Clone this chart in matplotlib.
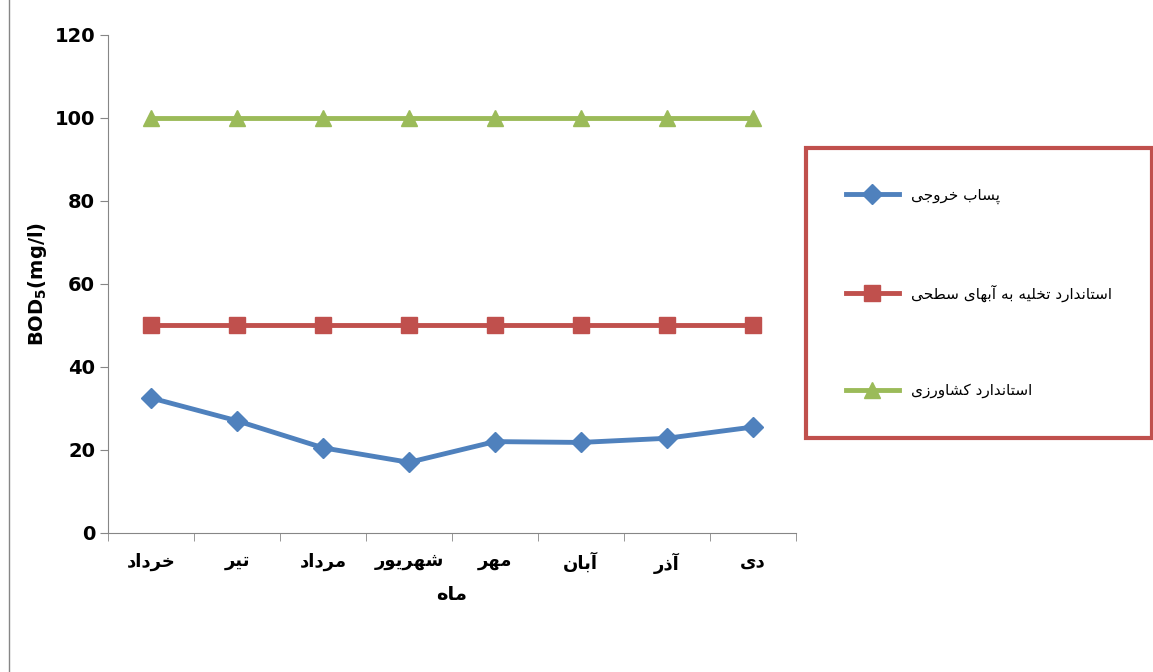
import matplotlib
matplotlib.use("Agg")
import matplotlib.pyplot as plt
from matplotlib.lines import Line2D

months = ["خرداد", "تیر", "مرداد", "شهریور", "مهر", "آبان", "آذر", "دی"]
effluent = [32.5, 27.0, 20.5, 17.0, 22.0, 21.8, 22.8, 25.5]
surface_std = [50, 50, 50, 50, 50, 50, 50, 50]
agri_std = [100, 100, 100, 100, 100, 100, 100, 100]
series_names = ["پساب خروجی", "استاندارد تخلیه به آبهای سطحی", "استاندارد کشاورزی"]
xlabel = "ماه"

# minimal arabic/persian shaping (matplotlib has no shaping / bidi)
FORMS = {
    "ا": (0xFE8D, 0xFE8E, None, None), "آ": (0xFE81, 0xFE82, None, None),
    "ب": (0xFE8F, 0xFE90, 0xFE91, 0xFE92), "پ": (0xFB56, 0xFB57, 0xFB58, 0xFB59),
    "ت": (0xFE95, 0xFE96, 0xFE97, 0xFE98), "ج": (0xFE9D, 0xFE9E, 0xFE9F, 0xFEA0),
    "ح": (0xFEA1, 0xFEA2, 0xFEA3, 0xFEA4), "خ": (0xFEA5, 0xFEA6, 0xFEA7, 0xFEA8),
    "د": (0xFEA9, 0xFEAA, None, None), "ذ": (0xFEAB, 0xFEAC, None, None),
    "ر": (0xFEAD, 0xFEAE, None, None), "ز": (0xFEAF, 0xFEB0, None, None),
    "س": (0xFEB1, 0xFEB2, 0xFEB3, 0xFEB4), "ش": (0xFEB5, 0xFEB6, 0xFEB7, 0xFEB8),
    "ط": (0xFEC1, 0xFEC2, 0xFEC3, 0xFEC4), "ک": (0xFB8E, 0xFB8F, 0xFB90, 0xFB91),
    "ل": (0xFEDD, 0xFEDE, 0xFEDF, 0xFEE0), "م": (0xFEE1, 0xFEE2, 0xFEE3, 0xFEE4),
    "ن": (0xFEE5, 0xFEE6, 0xFEE7, 0xFEE8), "ه": (0xFEE9, 0xFEEA, 0xFEEB, 0xFEEC),
    "و": (0xFEED, 0xFEEE, None, None), "ی": (0xFBFC, 0xFBFD, 0xFBFE, 0xFBFF),
}


def shape(s):
    out = []
    for i, c in enumerate(s):
        if c not in FORMS:
            out.append(c)
            continue
        f = FORMS[c]
        prev = s[i - 1] if i > 0 else ""
        nxt = s[i + 1] if i + 1 < len(s) else ""
        jp = prev in FORMS and FORMS[prev][2] is not None
        jn = f[2] is not None and nxt in FORMS
        if jp and jn:
            code = f[3]
        elif jp:
            code = f[1]
        elif jn:
            code = f[2]
        else:
            code = f[0]
        out.append(chr(code))
    return "".join(out)[::-1]


plt.rcParams["font.family"] = ["DejaVu Sans"]

fig = plt.figure(figsize=(11.53, 6.72), dpi=100)
ax = fig.add_axes([0.094, 0.207, 0.596, 0.741])

x = list(range(len(months)))
ax.plot(x, effluent, color="#4f81bd", lw=3.5, marker="D", ms=10)
ax.plot(x, surface_std, color="#c0504d", lw=3.5, marker="s", ms=11)
ax.plot(x, agri_std, color="#9bbb59", lw=3.5, marker="^", ms=12)

ax.set_xlim(-0.5, len(months) - 0.5)
ax.set_ylim(0, 120)
ax.set_yticks(range(0, 121, 20))
ax.set_xticks(x)
ax.set_xticklabels([shape(m) for m in months], fontsize=13, fontweight="bold")
ax.set_xticks([i - 0.5 for i in range(len(months) + 1)], minor=True)
ax.tick_params(axis="x", which="major", length=0, pad=14)
ax.tick_params(axis="x", which="minor", length=6, color="#868686")
ax.tick_params(axis="y", labelsize=14, length=6, color="#868686")
for lab in ax.get_yticklabels():
    lab.set_fontweight("bold")
for s in ["top", "right"]:
    ax.spines[s].set_visible(False)
for s in ["left", "bottom"]:
    ax.spines[s].set_color("#868686")
ax.set_xlabel(shape(xlabel), fontsize=14, fontweight="bold", labelpad=8)
ax.set_ylabel("BOD$_\\mathbf{5}$(mg/l)", fontsize=14, fontweight="bold")

handles = [
    Line2D([], [], color="#4f81bd", lw=3.5, marker="D", ms=10),
    Line2D([], [], color="#c0504d", lw=3.5, marker="s", ms=11),
    Line2D([], [], color="#9bbb59", lw=3.5, marker="^", ms=12),
]
leg = fig.legend(handles, [shape(n) for n in series_names], loc="upper left",
                 bbox_to_anchor=(0.699, 0.78), fontsize=11, frameon=True,
                 fancybox=False, labelspacing=5.3, borderpad=2.6, handlelength=3.5,
                 borderaxespad=0)
leg.get_frame().set_edgecolor("#c0504d")
leg.get_frame().set_linewidth(3)
leg.get_frame().set_alpha(1)

fig.add_artist(Line2D([0.008, 0.008], [0.0, 1.0], color="#868686", lw=1))

fig.savefig("out.png", dpi=100)
